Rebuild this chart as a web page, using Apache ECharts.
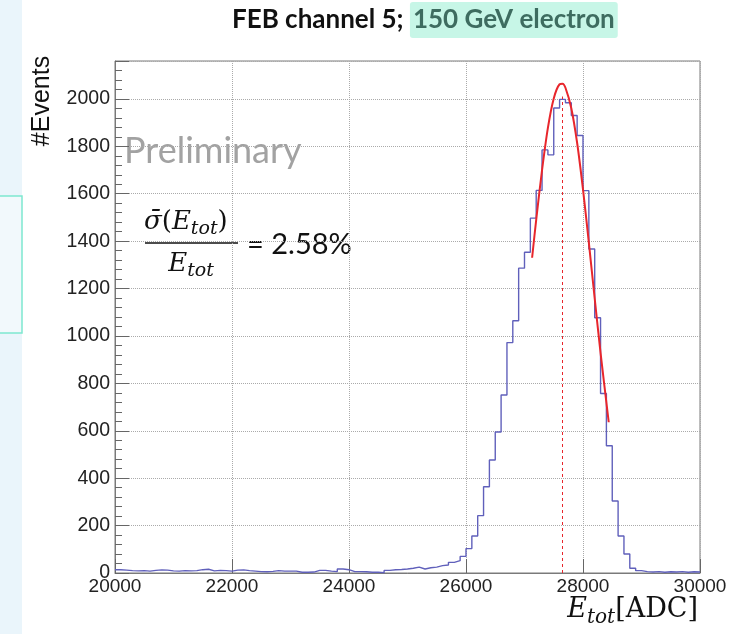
<!DOCTYPE html>
<html><head><meta charset="utf-8">
<script src="https://cdn.jsdelivr.net/npm/echarts@6/dist/echarts.min.js"></script>
<style>html,body{margin:0;padding:0;background:#fff}#c{width:744px;height:634px}</style>
</head><body><div id="c"></div>
<script>
// Histogram: 100 bins of 100 ADC from 20000 to 30000
const binLow = 20000;
const binWidth = 100;
const counts = [
  14,12,10,9,10,8,11,13,12,9,
  8,10,9,10,14,16,9,11,10,8,
  12,13,10,8,6,5,7,10,8,8,
  8,3,3,4,11,11,8,6,17,14,
  6,6,5,3,3,1,11,14,15,17,
  20,25,17,22,25,31,34,45,52,70,
  103,156,242,364,477,595,751,972,1064,1286,
  1353,1497,1614,1785,1764,1962,1998,1984,1930,1846,
  1613,1367,1077,757,537,304,156,80,20,10,
  6,4,6,3,5,4,6,3,5,4
];
// Fit curve points
const fitX = [27130,27200,27300,27400,27500,27600,27650,27700,27800,27900,28000,28100,28200,28300,28440];
const fitY = [1330,1490,1700,1878,2002,2062,2064,2047,1961,1814,1618,1394,1158,929,636];
const peakLineX = 27650;
const peakLineTop = 2010;
const xMin = 20000, xMax = 30000, xStep = 2000;
const yMin = 0, yMax = 2160, yStep = 200;

const histData = counts.map((c, i) => [binLow + i * binWidth, c]);
histData.push([binLow + counts.length * binWidth, counts[counts.length - 1]]);
const fitData = fitX.map((x, i) => [x, fitY[i]]);

const chart = echarts.init(document.getElementById('c'), null, {renderer: 'canvas'});
const serif = '"DejaVu Serif", "Liberation Serif", serif';
chart.setOption({
  animation: false,
  backgroundColor: '#ffffff',
  grid: {left: 115, right: 44, top: 61, bottom: 61, show: true, borderColor: '#7a7a7a', borderWidth: 1},
  xAxis: {
    type: 'value', min: xMin, max: xMax, interval: xStep,
    axisLine: {show: true, lineStyle: {color: '#7a7a7a'}},
    axisTick: {show: true, inside: true, length: 14, lineStyle: {color: '#666'}},
    axisLabel: {color: '#222', fontSize: 19, fontFamily: '"Liberation Sans", Arial, sans-serif', margin: 4, formatter: v => String(v)},
    splitLine: {show: true, lineStyle: {color: '#aaaaaa', type: 'dotted', width: 1}}
  },
  yAxis: {
    type: 'value', min: yMin, max: yMax, interval: yStep,
    axisLine: {show: true, lineStyle: {color: '#7a7a7a'}},
    axisTick: {show: true, inside: true, length: 14, lineStyle: {color: '#666'}},
    minorTick: {show: true, splitNumber: 5, length: 7, lineStyle: {color: '#666'}},
    axisLabel: {color: '#222', fontSize: 19.5, fontFamily: '"Liberation Sans", Arial, sans-serif', margin: 5, showMaxLabel: false, formatter: v => String(v)},
    splitLine: {show: true, lineStyle: {color: '#aaaaaa', type: 'dotted', width: 1}}
  },
  series: [
    {
      type: 'line', step: 'end', data: histData, symbol: 'none', z: 2,
      lineStyle: {color: '#6060bb', width: 1.4}
    },
    {
      type: 'line', smooth: 0.3, data: fitData, symbol: 'none', z: 3,
      lineStyle: {color: '#e8262c', width: 2},
      markLine: {
        symbol: 'none', silent: true, label: {show: false},
        lineStyle: {color: '#e8262c', type: [3, 3], width: 1},
        data: [[{coord: [peakLineX, 0]}, {coord: [peakLineX, peakLineTop]}]]
      }
    }
  ],
  graphic: [
    {type: 'rect', shape: {x: 0, y: 0, width: 22, height: 634}, style: {fill: '#eaf5fb'}},
    {type: 'rect', shape: {x: -3, y: 196, width: 25, height: 137}, style: {fill: '#f2f9fc', stroke: '#7ee8cf', lineWidth: 1.5}},
    {type: 'text', x: 42, y: 101, rotation: Math.PI / 2,
      style: {text: '#Events', font: '25px "Liberation Sans", Arial, sans-serif', fill: '#111', align: 'center', verticalAlign: 'middle', textAlign: 'center', textVerticalAlign: 'middle'}},
    {type: 'text', x: 232, y: 20,
      style: {text: '{a|FEB channel 5; }{b|150 GeV electron}', align: 'left', verticalAlign: 'middle', textAlign: 'left', textVerticalAlign: 'middle',
        rich: {
          a: {fontFamily: 'Lato', fontWeight: 'bold', fontSize: 26, fill: '#111', color: '#111'},
          b: {fontFamily: 'Lato', fontWeight: 'bold', fontSize: 26, fill: '#3e6c60', color: '#3e6c60', backgroundColor: '#c7f6e7', padding: [5, 3, 5, 3], borderRadius: 3}
        }}},
    {type: 'text', x: 124, y: 151,
      style: {text: 'Preliminary', font: '36px Lato, sans-serif', fill: '#a2a2a2', align: 'left', verticalAlign: 'middle', textAlign: 'left', textVerticalAlign: 'middle'}},
    {type: 'text', x: 144, y: 222,
      style: {text: '{it|σ̄}{rm|(}{it|E}{sub|tot}{rm|)}', align: 'left', verticalAlign: 'middle', textAlign: 'left', textVerticalAlign: 'middle',
        rich: {
          it: {fontFamily: serif, fontStyle: 'italic', fontSize: 26, lineHeight: 34, verticalAlign: 'middle', fill: '#111', color: '#111'},
          rm: {fontFamily: serif, fontSize: 26, lineHeight: 34, verticalAlign: 'middle', fill: '#111', color: '#111'},
          sub: {fontFamily: serif, fontStyle: 'italic', fontSize: 19, verticalAlign: 'bottom', fill: '#111', color: '#111'}
        }}},
    {type: 'line', shape: {x1: 145, y1: 243, x2: 238, y2: 243}, style: {stroke: '#111', lineWidth: 1.4}},
    {type: 'text', x: 191, y: 264,
      style: {text: '{it|E}{sub|tot}', align: 'center', verticalAlign: 'middle', textAlign: 'center', textVerticalAlign: 'middle',
        rich: {
          it: {fontFamily: serif, fontStyle: 'italic', fontSize: 26, lineHeight: 34, verticalAlign: 'middle', fill: '#111', color: '#111'},
          sub: {fontFamily: serif, fontStyle: 'italic', fontSize: 19, verticalAlign: 'bottom', fill: '#111', color: '#111'}
        }}},
    {type: 'text', x: 247, y: 245,
      style: {text: '= 2.58%', font: '29px Lato, sans-serif', fill: '#111', align: 'left', verticalAlign: 'middle', textAlign: 'left', textVerticalAlign: 'middle'}},
    {type: 'text', x: 698, y: 610,
      style: {text: '{it|E}{sub|tot}{rm|[ADC]}', align: 'right', verticalAlign: 'middle', textAlign: 'right', textVerticalAlign: 'middle',
        rich: {
          it: {fontFamily: serif, fontStyle: 'italic', fontSize: 27, lineHeight: 36, verticalAlign: 'middle', fill: '#111', color: '#111'},
          sub: {fontFamily: serif, fontStyle: 'italic', fontSize: 20, verticalAlign: 'bottom', fill: '#111', color: '#111'},
          rm: {fontFamily: serif, fontSize: 27, lineHeight: 36, verticalAlign: 'middle', fill: '#111', color: '#111'}
        }}}
  ]
});
</script>
</body></html>
